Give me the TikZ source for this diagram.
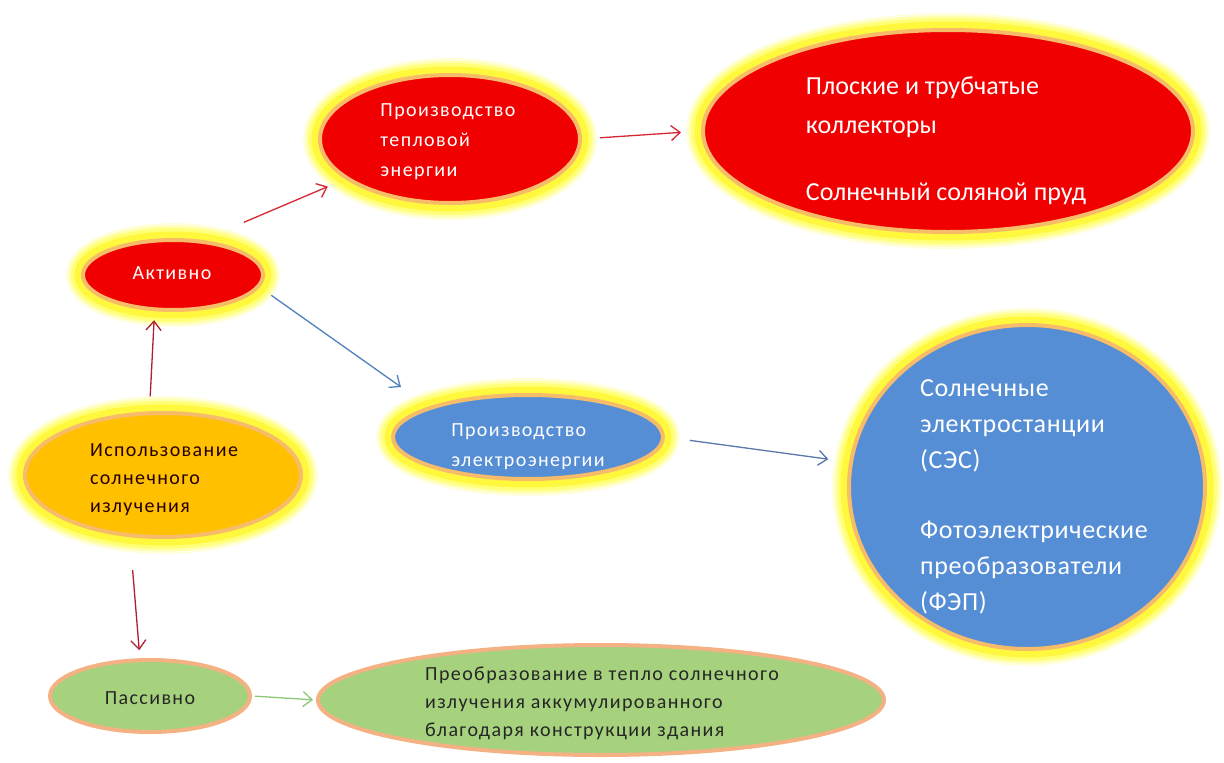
\documentclass[tikz,border=0pt]{standalone}
\usepackage{fontspec}
\setmainfont{Carlito}
\usetikzlibrary{arrows.meta,shapes.geometric}
\definecolor{cRed}{RGB}{240,0,0}
\definecolor{cOrange}{RGB}{255,192,0}
\definecolor{cBlue}{RGB}{85,142,213}
\definecolor{cGreen}{RGB}{166,210,126}
\definecolor{cSalmon}{RGB}{244,177,131}
\definecolor{gA}{RGB}{255,255,222}
\definecolor{gB}{RGB}{255,255,175}
\definecolor{gC}{RGB}{255,255,120}
\definecolor{gD}{RGB}{255,248,60}
\definecolor{gRim}{RGB}{247,188,105}
\definecolor{aDark}{RGB}{175,30,50}
\definecolor{aRed}{RGB}{215,40,50}
\definecolor{aBlue}{RGB}{79,129,189}
\definecolor{aGray}{RGB}{90,120,170}
\definecolor{aGreen}{RGB}{140,200,120}
\tikzset{
  ell/.style={ellipse, inner sep=0pt},
  glow/.style={preaction={draw=gA, line width=34pt},
               preaction={draw=gB, line width=29pt},
               preaction={draw=gC, line width=24pt},
               preaction={draw=gD, line width=17pt},
               draw=gRim, line width=4pt},
  plain/.style={draw=cSalmon, line width=4pt},
  txt/.style={inner sep=0pt, align=left},
  lbl/.style={txt, font=\fontsize{20}{28}\selectfont\addfontfeature{LetterSpace=7}},
  lblw/.style={txt, font=\fontsize{20}{30}\selectfont\addfontfeature{LetterSpace=7}},
  bigl/.style={txt, font=\fontsize{26}{36}\selectfont\addfontfeature{LetterSpace=2.5}},
  arr/.style={line width=1.3pt, -{Straight Barb[length=9pt,width=15pt]}},
}
\begin{document}
\begin{tikzpicture}[x=1pt,y=-1pt]
\fill[white] (0,0) rectangle (1224,763);
\useasboundingbox (0,0) rectangle (1224,763);

% shapes
\node[ell, glow, fill=cOrange, minimum width=276pt, minimum height=124pt] (use) at (163,475) {};
\node[ell, glow, fill=cRed, minimum width=180pt, minimum height=70pt] (act) at (173,275) {};
\node[ell, glow, fill=cRed, minimum width=260pt, minimum height=128pt] (heat) at (450,139) {};
\node[ell, glow, fill=cRed, minimum width=490pt, minimum height=202pt] (coll) at (948,131) {};
\node[ell, glow, fill=cBlue, minimum width=270pt, minimum height=84pt] (elec) at (528,437) {};
\node[ell, glow, fill=cBlue, minimum width=356pt, minimum height=324pt] (ses) at (1027,487) {};
\node[ell, plain, fill=cGreen, minimum width=200pt, minimum height=72pt] (pas) at (150,696) {};
\node[ell, plain, fill=cGreen, minimum width=566pt, minimum height=110pt] (conv) at (601,700) {};

% texts
\node[lbl, text=black!85!red] (useT) at (164,480) {Использование\\солнечного\\излучения};
\node[lbl, text=white] (actT) at (172,273) {Активно};
\node[lblw, text=white] (heatT) at (448,142) {Производство\\тепловой\\энергии};
\node[bigl, text=white, font=\fontsize{26}{39}\selectfont] (collT) at (946,141)
  {Плоские и трубчатые\\коллекторы\\[28pt]Солнечный соляной пруд};
\node[lblw, text=white] (elecT) at (528,447) {Производство\\электроэнергии};
\node[bigl, text=white] (sesT) at (1034,497)
  {Солнечные\\электростанции\\(СЭС)\\[34pt]Фотоэлектрические\\преобразователи\\(ФЭП)};
\node[lbl, text=black!85] (pasT) at (150,698) {Пассивно};
\node[lbl, text=black!85] (convT) at (602,703)
  {Преобразование в тепло солнечного\\излучения аккумулированного\\благодаря конструкции здания};

% connectors
\draw[arr, aDark, shorten <=15pt, shorten >=9pt] (use.102) -- (act.243);
\draw[arr, aDark, shorten <=33pt, shorten >=8pt] (use.242) -- (pas.105);
\draw[arr, aRed, shorten <=45pt, shorten >=19pt] (act.50) -- (heat.201);
\draw[arr, aRed, shorten <=18pt, shorten >=20pt] (heat.east) -- (coll.west);
\draw[arr, aBlue, shorten <=14pt, shorten >=34pt] (act.-8) -- (elec.163.5);
\draw[arr, aGray, shorten <=25pt, shorten >=21pt] (elec.east) -- (ses.172);
\draw[arr, aGreen, shorten <=3pt, shorten >=3pt] (pas.east) -- (conv.west);
\end{tikzpicture}
\end{document}
